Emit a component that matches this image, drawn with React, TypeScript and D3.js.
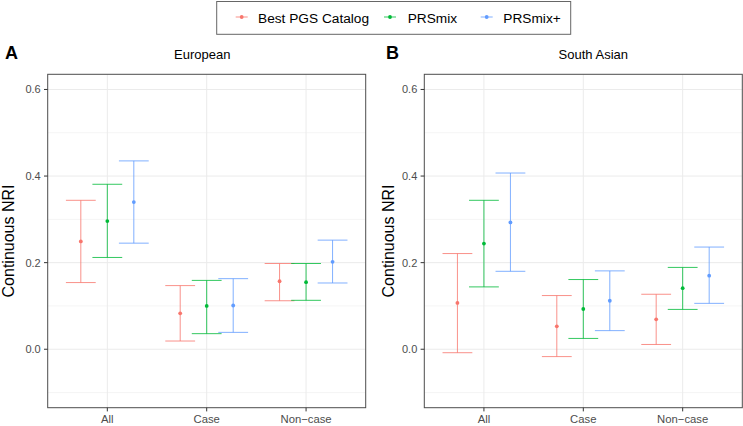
import React from "react";
import * as d3 from "d3";

const categories = ["All", "Case", "Non\u2212case"];
const seriesNames = ["Best PGS Catalog", "PRSmix", "PRSmix+"];
const seriesColors = ["#F8766D", "#00BA38", "#619CFF"];
const yTicks = [0, 0.2, 0.4, 0.6];
const yMinor = [-0.1, 0.1, 0.3, 0.5];
const panelTitles = ["European", "South Asian"];
const panelTags = ["A", "B"];
const yTitle = "Continuous NRI";

// European
const euBestEst = [0.249, 0.083, 0.157];
const euBestLo = [0.154, 0.019, 0.112];
const euBestHi = [0.344, 0.147, 0.198];
const euMixEst = [0.296, 0.1, 0.155];
const euMixLo = [0.212, 0.036, 0.113];
const euMixHi = [0.381, 0.159, 0.198];
const euPlusEst = [0.34, 0.101, 0.202];
const euPlusLo = [0.245, 0.039, 0.153];
const euPlusHi = [0.435, 0.163, 0.252];

// South Asian
const saBestEst = [0.107, 0.053, 0.069];
const saBestLo = [-0.008, -0.017, 0.011];
const saBestHi = [0.221, 0.124, 0.127];
const saMixEst = [0.244, 0.093, 0.141];
const saMixLo = [0.144, 0.025, 0.092];
const saMixHi = [0.344, 0.161, 0.189];
const saPlusEst = [0.293, 0.112, 0.17];
const saPlusLo = [0.18, 0.043, 0.106];
const saPlusHi = [0.407, 0.181, 0.236];

const panelData = [
  [
    { est: euBestEst, lo: euBestLo, hi: euBestHi },
    { est: euMixEst, lo: euMixLo, hi: euMixHi },
    { est: euPlusEst, lo: euPlusLo, hi: euPlusHi },
  ],
  [
    { est: saBestEst, lo: saBestLo, hi: saBestHi },
    { est: saMixEst, lo: saMixLo, hi: saMixHi },
    { est: saPlusEst, lo: saPlusLo, hi: saPlusHi },
  ],
];

const W = 743;
const H = 426;
const FONT = "'Liberation Sans', Arial, Helvetica, sans-serif";
const panelTop = 74.3;
const panelBottom = 407.7;
const panels = [
  { left: 47.7, right: 365.7, titleX: 202.3, tagX: 5, ylabX: 7.5 },
  { left: 424.3, right: 742.3, titleX: 593.3, tagX: 386, ylabX: 387.5 },
];

const y = d3.scaleLinear().domain([-0.135, 0.635]).range([panelBottom, panelTop]);

function Panel({ idx }: { idx: number }) {
  const p = panels[idx];
  const x = d3.scalePoint<string>().domain(categories).range([p.left, p.right]).padding(0.6);
  const step = x.step();
  const dodge = (0.8 / 3) * step;
  const capHalf = (0.3 * step) / 2;
  const data = panelData[idx];
  return (
    <g>
      <rect x={p.left} y={panelTop} width={p.right - p.left} height={panelBottom - panelTop} fill="#fff" />
      {yMinor.map((t) => (
        <line key={"mi" + t} x1={p.left} x2={p.right} y1={y(t)} y2={y(t)} stroke="#F2F2F2" strokeWidth={0.8} />
      ))}
      {yTicks.map((t) => (
        <line key={"ma" + t} x1={p.left} x2={p.right} y1={y(t)} y2={y(t)} stroke="#EBEBEB" strokeWidth={1} />
      ))}
      {categories.map((c) => (
        <line key={"vx" + c} x1={x(c)} x2={x(c)} y1={panelTop} y2={panelBottom} stroke="#EBEBEB" strokeWidth={1} />
      ))}
      {data.map((s, si) =>
        categories.map((c, ci) => {
          const cx = (x(c) as number) + (si - 1) * dodge;
          const col = seriesColors[si];
          return (
            <g key={si + "-" + ci}>
              <line x1={cx} x2={cx} y1={y(s.lo[ci])} y2={y(s.hi[ci])} stroke={col} strokeWidth={1} strokeOpacity={0.8} />
              <line x1={cx - capHalf} x2={cx + capHalf} y1={y(s.lo[ci])} y2={y(s.lo[ci])} stroke={col} strokeWidth={1} strokeOpacity={0.8} />
              <line x1={cx - capHalf} x2={cx + capHalf} y1={y(s.hi[ci])} y2={y(s.hi[ci])} stroke={col} strokeWidth={1} strokeOpacity={0.8} />
              <circle cx={cx} cy={y(s.est[ci])} r={1.9} fill={col} />
            </g>
          );
        })
      )}
      <rect x={p.left} y={panelTop} width={p.right - p.left} height={panelBottom - panelTop} fill="none" stroke="#4D4D4D" strokeWidth={1} />
      {yTicks.map((t) => (
        <g key={"yt" + t}>
          <line x1={p.left - 3.7} x2={p.left} y1={y(t)} y2={y(t)} stroke="#333" strokeWidth={1} />
          <text x={p.left - 7} y={y(t) + 4} textAnchor="end" fontSize={11} fill="#4D4D4D" fontFamily={FONT}>
            {t.toFixed(1)}
          </text>
        </g>
      ))}
      {categories.map((c) => (
        <g key={"xt" + c}>
          <line x1={x(c)} x2={x(c)} y1={panelBottom} y2={panelBottom + 3.7} stroke="#333" strokeWidth={1} />
          <text x={x(c)} y={423} textAnchor="middle" fontSize={11.3} fill="#4D4D4D" fontFamily={FONT}>
            {c}
          </text>
        </g>
      ))}
      <text x={p.titleX} y={59} textAnchor="middle" fontSize={13} fill="#000" fontFamily={FONT}>
        {panelTitles[idx]}
      </text>
      <text x={p.tagX} y={59} fontSize={18} fontWeight="bold" fill="#000" fontFamily={FONT}>
        {panelTags[idx]}
      </text>
      <text
        transform={`translate(${p.ylabX + 6},${(panelTop + panelBottom) / 2}) rotate(-90)`}
        textAnchor="middle"
        fontSize={16}
        fill="#000"
        fontFamily={FONT}
      >
        {yTitle}
      </text>
    </g>
  );
}

function Legend() {
  const keyCenters = [241.7, 390, 486.7];
  const textStarts = [258, 407.7, 503.3];
  return (
    <g>
      <rect x={216.7} y={1.5} width={354} height={32.8} fill="#fff" stroke="#666" strokeWidth={1} />
      {seriesNames.map((n, i) => (
        <g key={n}>
          <line x1={keyCenters[i] - 6} x2={keyCenters[i] + 6} y1={17} y2={17} stroke={seriesColors[i]} strokeWidth={1} strokeOpacity={0.8} />
          <circle cx={keyCenters[i]} cy={17} r={1.9} fill={seriesColors[i]} />
          <text x={textStarts[i]} y={22.5} fontSize={13.7} fill="#000" fontFamily={FONT}>
            {n}
          </text>
        </g>
      ))}
    </g>
  );
}

export default function App() {
  return (
    <svg width={W} height={H} style={{ position: "absolute", left: 0, top: 0, background: "#fff" }}>
      <rect width={W} height={H} fill="#fff" />
      <Legend />
      <Panel idx={0} />
      <Panel idx={1} />
    </svg>
  );
}
